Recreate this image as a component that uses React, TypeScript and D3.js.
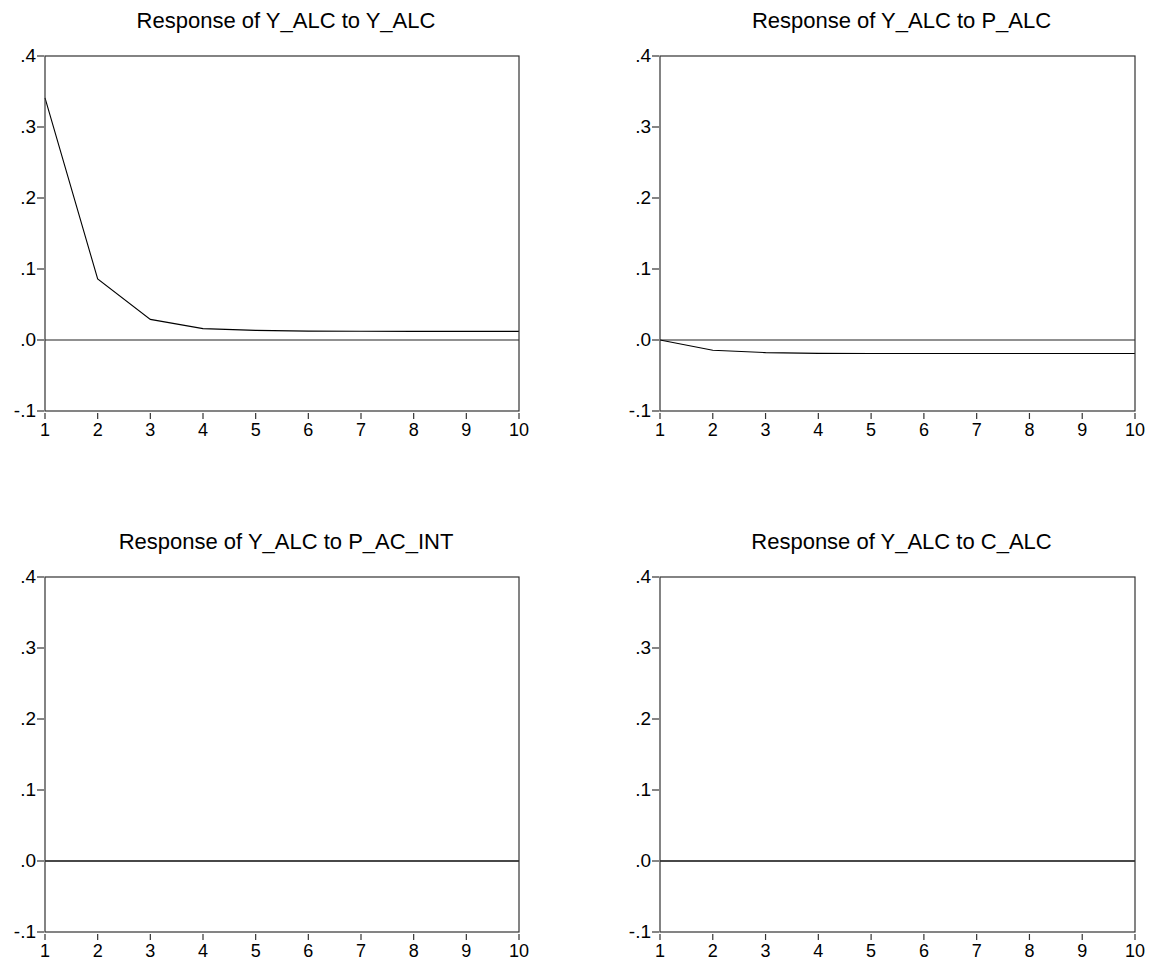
import React, { useEffect, useRef } from "react";
import * as d3 from "d3";

const periods = [1, 2, 3, 4, 5, 6, 7, 8, 9, 10];
const yTicks = [-0.1, 0, 0.1, 0.2, 0.3, 0.4];
const titles = [
  "Response of Y_ALC to Y_ALC",
  "Response of Y_ALC to P_ALC",
  "Response of Y_ALC to P_AC_INT",
  "Response of Y_ALC to C_ALC",
];
const respYalc = [0.341, 0.086, 0.029, 0.016, 0.0135, 0.0125, 0.0123, 0.0122, 0.0122, 0.0122];
const respPalc = [0, -0.0145, -0.0178, -0.0188, -0.019, -0.019, -0.019, -0.019, -0.019, -0.019];
const respPacInt = [0, 0, 0, 0, 0, 0, 0, 0, 0, 0];
const respCalc = [0, 0, 0, 0, 0, 0, 0, 0, 0, 0];

const FONT = "'Liberation Sans', Arial, sans-serif";

function App() {
  const ref = useRef<SVGSVGElement | null>(null);

  useEffect(() => {
    const width = 1154;
    const height = 962;
    const svg = d3.select(ref.current);
    svg.selectAll("*").remove();

    const series = [respYalc, respPalc, respPacInt, respCalc];
    // plot boxes: left, right, top, bottom
    const boxes = [
      [45, 519, 56, 411],
      [660, 1135, 56, 411],
      [45, 519, 577, 932],
      [660, 1135, 577, 932],
    ];

    // EViews style labels: ".4", "-.1"
    const fmt = (v: number) => {
      const s = Math.abs(v).toFixed(1).replace("0.", ".");
      return v < 0 ? "-" + s : s;
    };

    series.forEach((vals, i) => {
      const [l, r, t, b] = boxes[i];
      const x = d3.scaleLinear().domain([1, 10]).range([l, r]);
      const y = d3.scaleLinear().domain([-0.1, 0.4]).range([b, t]);
      const g = svg.append("g");

      // title
      g.append("text")
        .attr("x", (l + r) / 2 + 4)
        .attr("y", t - 28)
        .attr("text-anchor", "middle")
        .attr("font-family", FONT)
        .attr("font-size", 22)
        .attr("fill", "#000")
        .text(titles[i]);

      // zero line
      g.append("line")
        .attr("x1", l).attr("x2", r)
        .attr("y1", y(0)).attr("y2", y(0))
        .attr("stroke", "#222").attr("stroke-width", 1.2);

      // response
      const line = d3.line<number>()
        .x((d, j) => x(periods[j]))
        .y(d => y(d));
      g.append("path")
        .datum(vals)
        .attr("d", line)
        .attr("fill", "none")
        .attr("stroke", "#000")
        .attr("stroke-width", 1.1);

      // frame
      g.append("rect")
        .attr("x", l).attr("y", t)
        .attr("width", r - l).attr("height", b - t)
        .attr("fill", "none")
        .attr("stroke", "#333").attr("stroke-width", 1.2);

      // y ticks
      yTicks.forEach(v => {
        g.append("line")
          .attr("x1", l - 8).attr("x2", l - 1)
          .attr("y1", y(v)).attr("y2", y(v))
          .attr("stroke", "#333").attr("stroke-width", 1.2);
        g.append("text")
          .attr("x", l - 9)
          .attr("y", y(v) + 6)
          .attr("text-anchor", "end")
          .attr("font-family", FONT)
          .attr("font-size", 19)
          .text(fmt(v));
      });

      // x ticks
      periods.forEach(p => {
        g.append("line")
          .attr("x1", x(p)).attr("x2", x(p))
          .attr("y1", b + 2).attr("y2", b + 8)
          .attr("stroke", "#333").attr("stroke-width", 1.2);
        g.append("text")
          .attr("x", x(p))
          .attr("y", b + 25)
          .attr("text-anchor", "middle")
          .attr("font-family", FONT)
          .attr("font-size", 18)
          .text(p);
      });
    });

    svg.attr("width", width).attr("height", height);
  }, []);

  return (
    <div style={{ position: "absolute", left: 0, top: 0, background: "#fff" }}>
      <svg ref={ref} width={1154} height={962} style={{ display: "block" }} />
    </div>
  );
}

export default App;
